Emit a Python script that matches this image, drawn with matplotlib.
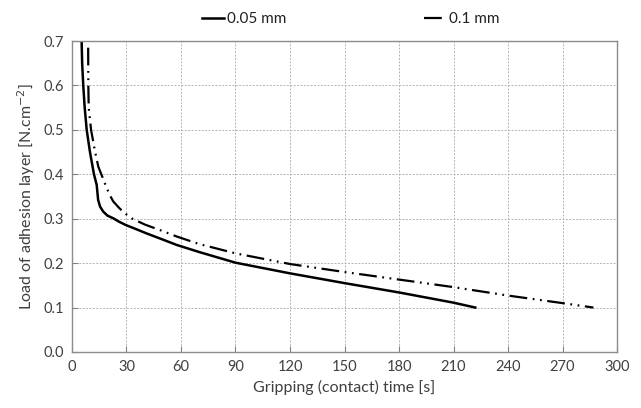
import matplotlib
matplotlib.use("Agg")
import matplotlib.pyplot as plt

plt.rcParams["font.family"] = ["Lato", "DejaVu Sans"]

# 0.05 mm layer
t_005 = [5.3, 5.6, 6.2, 7.0, 8.1, 9.9, 12.1, 13.6, 14.4, 15.5, 17.2, 19.5,
         22.7, 26.0, 29.5, 35.0, 41.0, 50.0, 57.6, 70.0, 90.0, 120.0, 150.0,
         180.0, 210.0, 222.0]
v_005 = [0.70, 0.65, 0.60, 0.55, 0.50, 0.45, 0.40, 0.376, 0.342, 0.327,
         0.316, 0.307, 0.301, 0.293, 0.286, 0.277, 0.267, 0.253, 0.241, 0.225,
         0.201, 0.177, 0.155, 0.134, 0.111, 0.10]

# 0.1 mm layer
t_01 = [8.9, 9.0, 9.2, 10.5, 12.7, 14.5, 17.5, 19.1, 21.1, 22.7, 26.0, 29.2,
        32.8, 40.0, 50.0, 57.6, 70.0, 90.0, 120.0, 150.0, 180.0, 210.0, 240.0,
        270.0, 287.0]
v_01 = [0.685, 0.60, 0.55, 0.50, 0.451, 0.417, 0.386, 0.369, 0.351, 0.339,
        0.324, 0.312, 0.301, 0.287, 0.272, 0.26, 0.243, 0.222, 0.198, 0.18,
        0.163, 0.146, 0.127, 0.11, 0.10]

x_ticks = list(range(0, 301, 30))
y_ticks = [0.0, 0.1, 0.2, 0.3, 0.4, 0.5, 0.6, 0.7]

fig = plt.figure(figsize=(6.41, 4.08), dpi=100)
ax = fig.add_axes([0.1123, 0.1373, 0.8503, 0.7622])

ax.plot(t_005, v_005, color="black", lw=1.8, label="0.05 mm")
ax.plot(t_01, v_01, color="black", lw=1.6,
        dashes=(8, 2.5, 0.8, 2.5, 0.8, 2.5), label="0.1 mm")

ax.set_xlim(0, 300)
ax.set_ylim(0, 0.7)
ax.set_xticks(x_ticks)
ax.set_yticks(y_ticks)
ax.set_yticklabels([f"{v:.1f}" for v in y_ticks])
ax.grid(True, color="#b4b4b4", ls=(0, (2, 1.5)), lw=0.7)
ax.tick_params(direction="in", length=4, color="#808080",
               labelsize=10.5, labelcolor="#404040", pad=6)
for s in ax.spines.values():
    s.set_color("#8c8c8c")
    s.set_linewidth(1.0)

ax.set_xlabel("Gripping (contact) time [s]", fontsize=11.5, color="#404040")
ax.set_ylabel("Load of adhesion layer [N.cm$^{-2}$]", fontsize=11.5,
              color="#404040")

fig.legend(loc="center left", bbox_to_anchor=(0.3025, 0.953), ncol=2,
           frameon=False, borderpad=0, handlelength=1.5, handletextpad=0.15,
           columnspacing=9.0, fontsize=11, labelcolor="#202020")

fig.savefig("out.png", dpi=100)
